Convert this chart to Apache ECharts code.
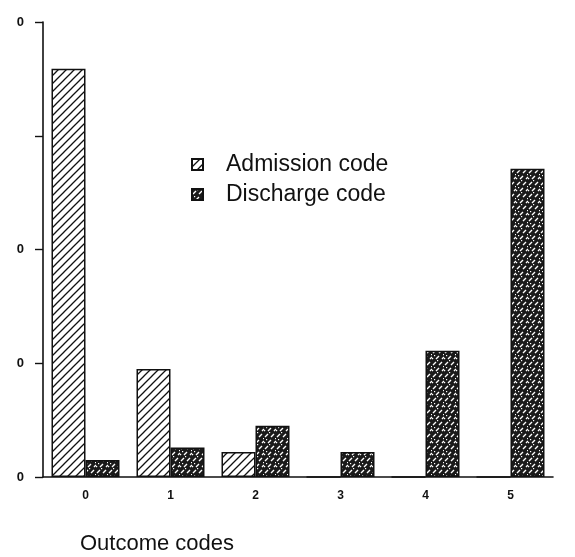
<!DOCTYPE html>
<html>
<head>
<meta charset="utf-8">
<script src="https://cdn.jsdelivr.net/npm/echarts@6/dist/echarts.min.js"></script>
<style>
  html, body { margin: 0; padding: 0; background: #fff; }
  #chart { width: 575px; height: 557px; }
</style>
</head>
<body>
<div id="chart"></div>
<script>
// outcome codes on the x axis
var categories = ["0", "1", "2", "3", "4", "5"];
// bar heights (axis 0..40)
var admission = [35.9, 9.5, 2.2, 0, 0, 0];
var discharge = [1.5, 2.6, 4.5, 2.2, 11.1, 27.1];
// the scan only shows the last digit of the y labels, 30 has none
var yTickLabels = ["0", "0", "0", "", "0"];

// diagonal hatch for admission bars
function hatchPattern() {
  var c = document.createElement("canvas");
  c.width = 8;
  c.height = 8;
  var ctx = c.getContext("2d");
  ctx.fillStyle = "#fff";
  ctx.fillRect(0, 0, 8, 8);
  ctx.strokeStyle = "#111";
  ctx.lineWidth = 1.3;
  ctx.beginPath();
  ctx.moveTo(-1, 9);
  ctx.lineTo(9, -1);
  ctx.moveTo(-1, 1);
  ctx.lineTo(1, -1);
  ctx.moveTo(7, 9);
  ctx.lineTo(9, 7);
  ctx.stroke();
  return c;
}

// dark stipple with white dashes for discharge bars
function stipplePattern() {
  var c = document.createElement("canvas");
  c.width = 12;
  c.height = 12;
  var ctx = c.getContext("2d");
  ctx.fillStyle = "#1a1a1a";
  ctx.fillRect(0, 0, 12, 12);
  ctx.strokeStyle = "#fff";
  ctx.lineWidth = 1.4;
  ctx.beginPath();
  ctx.moveTo(1, 5);
  ctx.lineTo(4, 2);
  ctx.moveTo(7, 5);
  ctx.lineTo(10, 2);
  ctx.moveTo(4, 11);
  ctx.lineTo(7, 8);
  ctx.moveTo(10, 11);
  ctx.lineTo(12, 9);
  ctx.moveTo(0, 11);
  ctx.lineTo(1, 10);
  ctx.stroke();
  ctx.fillStyle = "#fff";
  ctx.fillRect(5, 0, 1.2, 1.2);
  ctx.fillRect(11, 6, 1.2, 1.2);
  ctx.fillRect(2, 7, 1.2, 1.2);
  return c;
}

var chart = echarts.init(document.getElementById("chart"));

var option = {
  animation: false,
  backgroundColor: "#fff",
  grid: {
    left: 43,
    right: 22,
    top: 22,
    bottom: 80
  },
  legend: {
    orient: "vertical",
    left: 186,
    top: 148,
    icon: "rect",
    itemWidth: 11,
    itemHeight: 11,
    itemGap: 7,
    textStyle: {
      fontFamily: "Liberation Sans",
      fontSize: 23,
      color: "#111",
      padding: [0, 0, 0, 18]
    },
    data: ["Admission code", "Discharge code"]
  },
  xAxis: {
    type: "category",
    data: categories,
    axisLine: { lineStyle: { color: "#111", width: 1.6 } },
    axisTick: {
      alignWithLabel: true,
      length: 7,
      lineStyle: { color: "#111", width: 1.4 }
    },
    axisLabel: {
      color: "#111",
      fontFamily: "Liberation Sans",
      fontWeight: "bold",
      fontSize: 12,
      margin: 13
    },
    name: "Outcome codes",
    nameLocation: "start",
    nameGap: 0,
    nameTextStyle: {
      fontFamily: "Liberation Sans",
      fontSize: 22,
      color: "#111",
      align: "left",
      verticalAlign: "top",
      padding: [56, 0, 0, 37]
    }
  },
  yAxis: {
    type: "value",
    min: 0,
    max: 40,
    interval: 10,
    axisLine: { show: true, lineStyle: { color: "#111", width: 1.6 } },
    axisTick: { show: true, length: 8, lineStyle: { color: "#111", width: 1.4 } },
    splitLine: { show: false },
    axisLabel: {
      color: "#111",
      fontFamily: "Liberation Sans",
      fontWeight: "bold",
      fontSize: 13,
      margin: 19,
      formatter: function (v) {
        return yTickLabels[Math.round(v / 10)];
      }
    }
  },
  series: [
    {
      name: "Admission code",
      type: "bar",
      data: admission,
      barWidth: 34,
      barGap: "0%",
      itemStyle: {
        color: { image: hatchPattern(), repeat: "repeat" },
        borderColor: "#111",
        borderWidth: 1.5
      }
    },
    {
      name: "Discharge code",
      type: "bar",
      data: discharge,
      barWidth: 34,
      barGap: "0%",
      itemStyle: {
        color: { image: stipplePattern(), repeat: "repeat" },
        borderColor: "#111",
        borderWidth: 1.5
      }
    }
  ]
};

chart.setOption(option);
</script>
</body>
</html>
